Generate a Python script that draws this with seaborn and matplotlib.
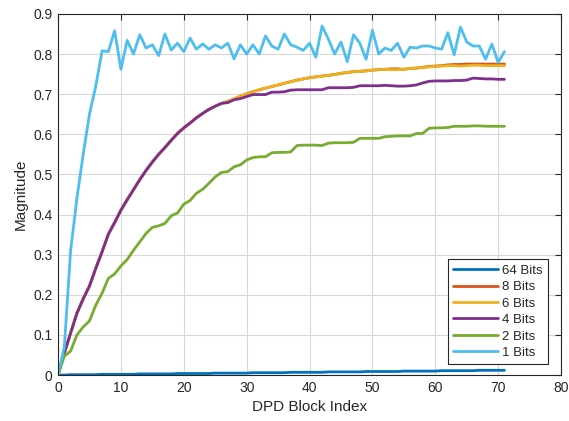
import numpy as np
import pandas as pd
import matplotlib
matplotlib.use("Agg")
import matplotlib.pyplot as plt
import seaborn as sns

# DPD block index 0..71
block_index = list(range(72))

bits_64 = [0.000, 0.000, 0.001, 0.001, 0.001, 0.001, 0.001,
           0.002, 0.002, 0.002, 0.002, 0.002, 0.002,
           0.003, 0.003, 0.003, 0.003, 0.003, 0.003,
           0.004, 0.004, 0.004, 0.004, 0.004, 0.004,
           0.005, 0.005, 0.005, 0.005, 0.005, 0.005,
           0.006, 0.006, 0.006, 0.006, 0.006, 0.006,
           0.007, 0.007, 0.007, 0.007, 0.007, 0.007,
           0.008, 0.008, 0.008, 0.008, 0.008, 0.008,
           0.009, 0.009, 0.009, 0.009, 0.009, 0.009,
           0.010, 0.010, 0.010, 0.010, 0.010, 0.010,
           0.011, 0.011, 0.011, 0.011, 0.011, 0.011,
           0.012, 0.012, 0.012, 0.012, 0.012]

# shared rising part of the 8/6/4 bit curves (index 0..26)
rise = [0.0, 0.055, 0.105, 0.154, 0.190, 0.222, 0.266, 0.307, 0.351, 0.380,
        0.411, 0.437, 0.462, 0.487, 0.510, 0.531, 0.550, 0.567, 0.585, 0.602,
        0.616, 0.628, 0.641, 0.652, 0.662, 0.670, 0.677]

bits_6 = rise + [0.682, 0.688, 0.695, 0.701, 0.706, 0.711, 0.715, 0.719, 0.723,
                 0.727, 0.731, 0.735, 0.738, 0.741, 0.743, 0.745, 0.747, 0.749,
                 0.752, 0.754, 0.756, 0.757, 0.758, 0.760, 0.761, 0.762, 0.761,
                 0.761, 0.762, 0.764, 0.765, 0.767, 0.768, 0.769, 0.770, 0.771,
                 0.771, 0.770, 0.771, 0.772, 0.772, 0.771, 0.771, 0.771, 0.771]

bits_8 = rise + [0.682, 0.688, 0.695, 0.701, 0.706, 0.711, 0.715, 0.719, 0.723,
                 0.727, 0.731, 0.735, 0.738, 0.741, 0.743, 0.745, 0.747, 0.749,
                 0.752, 0.754, 0.756, 0.757, 0.758, 0.760, 0.761, 0.762, 0.763,
                 0.763, 0.762, 0.764, 0.765, 0.767, 0.769, 0.770, 0.771, 0.773,
                 0.774, 0.774, 0.775, 0.775, 0.775, 0.775, 0.775, 0.775, 0.775]

bits_4 = rise + [0.679, 0.686, 0.689, 0.694, 0.699, 0.699, 0.699, 0.705, 0.705,
                 0.706, 0.710, 0.711, 0.711, 0.711, 0.711, 0.711, 0.716, 0.716,
                 0.716, 0.716, 0.717, 0.721, 0.721, 0.721, 0.721, 0.722, 0.721,
                 0.720, 0.720, 0.721, 0.723, 0.728, 0.732, 0.733, 0.733, 0.733,
                 0.734, 0.734, 0.735, 0.740, 0.739, 0.738, 0.738, 0.737, 0.737]

bits_2 = [0.0, 0.047, 0.060, 0.100, 0.120, 0.135, 0.174, 0.204, 0.241, 0.252,
          0.272, 0.288, 0.311, 0.332, 0.353, 0.368, 0.372, 0.378, 0.397, 0.404,
          0.426, 0.435, 0.453, 0.463, 0.478, 0.494, 0.505, 0.507, 0.519, 0.524,
          0.536, 0.542, 0.544, 0.544, 0.554, 0.555, 0.555, 0.556, 0.572, 0.573,
          0.573, 0.573, 0.572, 0.578, 0.579, 0.579, 0.579, 0.580, 0.590, 0.590,
          0.590, 0.590, 0.594, 0.595, 0.596, 0.596, 0.596, 0.602, 0.602, 0.615,
          0.616, 0.616, 0.617, 0.620, 0.620, 0.620, 0.621, 0.621, 0.620, 0.620,
          0.620, 0.620]

bits_1 = [0.0, 0.07, 0.31, 0.44, 0.55, 0.65, 0.72, 0.808, 0.806, 0.858,
          0.762, 0.834, 0.800, 0.848, 0.815, 0.823, 0.796, 0.850, 0.810, 0.827,
          0.806, 0.840, 0.812, 0.825, 0.812, 0.823, 0.815, 0.827, 0.788, 0.823,
          0.800, 0.823, 0.800, 0.845, 0.820, 0.812, 0.850, 0.823, 0.817, 0.809,
          0.827, 0.792, 0.870, 0.837, 0.800, 0.830, 0.781, 0.848, 0.827, 0.787,
          0.859, 0.800, 0.815, 0.809, 0.827, 0.792, 0.817, 0.815, 0.820, 0.820,
          0.815, 0.812, 0.853, 0.798, 0.867, 0.830, 0.820, 0.820, 0.787, 0.825,
          0.779, 0.806]

series_labels = ["64 Bits", "8 Bits", "6 Bits", "4 Bits", "2 Bits", "1 Bits"]
series_values = [bits_64, bits_8, bits_6, bits_4, bits_2, bits_1]
series_colors = ["#0072BD", "#D95319", "#EDB120", "#7E2F8E", "#77AC30", "#4DBEEE"]

x_ticks = [0, 10, 20, 30, 40, 50, 60, 70, 80]
y_ticks = [0, 0.1, 0.2, 0.3, 0.4, 0.5, 0.6, 0.7, 0.8, 0.9]

sns.set_style("whitegrid")
plt.rcParams["font.family"] = ["Liberation Sans", "DejaVu Sans"]

fig = plt.figure(figsize=(5.69, 4.21), dpi=100)
ax = fig.add_axes([0.102, 0.109, 0.884, 0.858])

for label, vals, color in zip(series_labels, series_values, series_colors):
    df = pd.DataFrame({"idx": block_index, "mag": vals})
    sns.lineplot(data=df, x="idx", y="mag", ax=ax, color=color, linewidth=2.0,
                 label=label)

ax.set_xlim(0, 80)
ax.set_ylim(0, 0.9)
ax.set_xticks(x_ticks)
ax.set_yticks(y_ticks)
ax.set_xticklabels([str(t) for t in x_ticks])
ax.set_yticklabels([f"{t:g}" for t in y_ticks])
ax.set_xlabel("DPD Block Index", fontsize=11, color="#262626")
ax.set_ylabel("Magnitude", fontsize=11, color="#262626")

ax.grid(True, color="#d8d8d8", linewidth=0.8)
for side in ["left", "right", "top", "bottom"]:
    ax.spines[side].set_visible(True)
    ax.spines[side].set_color("#262626")
    ax.spines[side].set_linewidth(0.8)
ax.tick_params(direction="in", top=True, right=True, length=4, width=0.8,
               labelsize=10, colors="#262626", pad=4)

leg = ax.legend(loc="lower right", bbox_to_anchor=(0.974, 0.03), fontsize=9.5,
                frameon=True, fancybox=False, handlelength=3.4,
                borderpad=0.4, labelspacing=0.32, handletextpad=0.3,
                borderaxespad=0)
leg.get_frame().set_edgecolor("#262626")
leg.get_frame().set_linewidth(0.8)
leg.get_frame().set_alpha(1)

fig.savefig("out.png", dpi=100)
